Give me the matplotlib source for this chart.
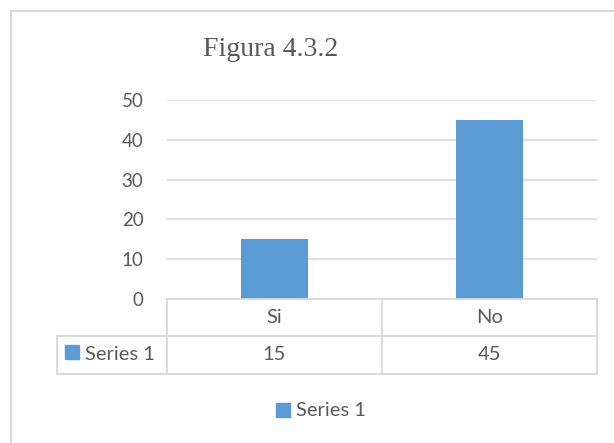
import numpy as np
import matplotlib.pyplot as plt
from matplotlib.lines import Line2D
from matplotlib.patches import Rectangle

# data
categories = ['Si', 'No']
series_name = 'Series 1'
values = [15, 45]
yticks = [0, 10, 20, 30, 40, 50]

W, H = 614, 443
bar_color = '#5B9BD5'
text_color = '#595959'
line_color = '#D9D9D9'

plt.rcParams['font.family'] = ['Lato', 'DejaVu Sans']

fig = plt.figure(figsize=(W / 100, H / 100), dpi=100)

# pixel -> figure coords helpers
def fx(px):
    return px / W

def fy(py):
    return 1 - py / H

# plot area
left, right, top, bottom = 167, 597, 100, 299
ax = fig.add_axes([fx(left), fy(bottom), fx(right - left), (bottom - top) / H])
x = np.arange(len(categories))
ax.bar(x, values, width=0.31, color=bar_color, zorder=3)
ax.set_xlim(-0.5, len(categories) - 0.5)
ax.set_ylim(0, 50)
ax.set_yticks(yticks)
ax.set_yticklabels([str(t) for t in yticks], fontsize=13.5, color=text_color)
ax.tick_params(axis='y', length=0, pad=17)
ax.set_xticks([])
ax.grid(axis='y', color=line_color, linewidth=1.2, zorder=0)
for s in ax.spines.values():
    s.set_visible(False)

# title
fig.text(fx(271), fy(50), 'Figura 4.3.2', family='Liberation Serif',
         fontsize=20, color=text_color, ha='center', va='center')

# chart border (only top/left visible in the crop)
fig.add_artist(Line2D([fx(11), fx(11)], [fy(11), fy(443)], color=line_color, lw=1.5))
fig.add_artist(Line2D([fx(11), fx(614)], [fy(11), fy(11)], color=line_color, lw=1.5))

# data table
col_edges = [left + i * (right - left) / len(categories) for i in range(len(categories) + 1)]
row1, row2, row3 = 299, 336, 374
key_left = 57
fs = 14.5

def hline(x0, x1, y):
    fig.add_artist(Line2D([fx(x0), fx(x1)], [fy(y), fy(y)], color=line_color, lw=1.3))

def vline(xp, y0, y1):
    fig.add_artist(Line2D([fx(xp), fx(xp)], [fy(y0), fy(y1)], color=line_color, lw=1.3))

hline(left, right, row1)
hline(key_left, right, row2)
hline(key_left, right, row3)
for xe in col_edges:
    vline(xe, row1, row3)
vline(key_left, row2, row3)

for i, (c, v) in enumerate(zip(categories, values)):
    cx = (col_edges[i] + col_edges[i + 1]) / 2
    fig.text(fx(cx), fy((row1 + row2) / 2), c, fontsize=fs, color=text_color,
             ha='center', va='center')
    fig.text(fx(cx), fy((row2 + row3) / 2), str(v), fontsize=fs, color=text_color,
             ha='center', va='center')

# key in table
fig.add_artist(Rectangle((fx(65), fy(359)), fx(14), 14 / H, color=bar_color))
fig.text(fx(85), fy((row2 + row3) / 2), series_name, fontsize=fs, color=text_color,
         ha='left', va='center')

# legend
fig.add_artist(Rectangle((fx(276), fy(417)), fx(14), 14 / H, color=bar_color))
fig.text(fx(296), fy(410), series_name, fontsize=fs, color=text_color,
         ha='left', va='center')

fig.savefig('out.png', dpi=100)
